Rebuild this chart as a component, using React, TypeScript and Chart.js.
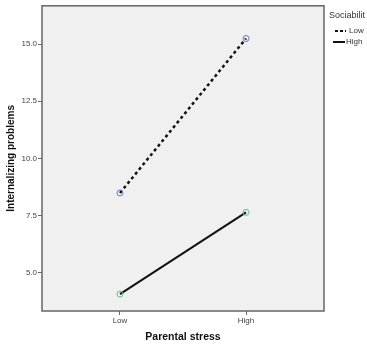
import React, { useEffect, useRef } from "react";
import { Chart, registerables } from "chart.js";
Chart.register(...registerables);

const categories = ["Low", "High"];
const lowSociability = [8.49, 15.24];
const highSociability = [4.07, 7.64];
const yTicks = [5, 7.5, 10, 12.5, 15];
const legendTitle = "Sociabilit";
const seriesNames = ["Low", "High"];
const xTitle = "Parental stress";
const yTitle = "Internalizing problems";

const FONT = "'Liberation Sans', Arial, sans-serif";

const decorPlugin = {
  id: "decor",
  beforeDraw(chart: any) {
    const { ctx, chartArea: a } = chart;
    ctx.save();
    ctx.fillStyle = "#fff";
    ctx.fillRect(0, 0, chart.width, chart.height);
    ctx.fillStyle = "#f0f0f0";
    ctx.fillRect(a.left, a.top, a.right - a.left, a.bottom - a.top);
    ctx.restore();
  },
  afterDraw(chart: any) {
    const { ctx, chartArea: a } = chart;
    ctx.save();
    ctx.strokeStyle = "#666";
    ctx.lineWidth = 1.5;
    ctx.strokeRect(a.left, a.top, a.right - a.left, a.bottom - a.top);
    // axis titles
    ctx.fillStyle = "#111";
    ctx.font = `bold 10.5px ${FONT}`;
    ctx.textAlign = "center";
    ctx.textBaseline = "middle";
    ctx.fillText(xTitle, (a.left + a.right) / 2, 337);
    ctx.font = `bold 10px ${FONT}`;
    ctx.save();
    ctx.translate(11, (a.top + a.bottom) / 2);
    ctx.rotate(-Math.PI / 2);
    ctx.fillText(yTitle, 0, 0);
    ctx.restore();
    // legend
    ctx.textAlign = "left";
    ctx.font = `9px ${FONT}`;
    ctx.fillStyle = "#333";
    ctx.fillText(legendTitle, 329, 16);
    ctx.font = `8px ${FONT}`;
    const rows = [31, 42];
    seriesNames.forEach((n, i) => {
      const y = rows[i];
      ctx.strokeStyle = "#111";
      ctx.lineWidth = 2;
      ctx.setLineDash(i === 0 ? [3, 2] : []);
      ctx.beginPath();
      ctx.moveTo(i === 0 ? 335 : 333, y);
      ctx.lineTo(i === 0 ? 346 : 345, y);
      ctx.stroke();
      ctx.setLineDash([]);
      ctx.fillStyle = "#333";
      ctx.fillText(n, i === 0 ? 349 : 346, y);
    });
    ctx.restore();
  },
};

export default function App() {
  const ref = useRef<HTMLCanvasElement>(null);
  useEffect(() => {
    const chart = new Chart(ref.current!, {
      type: "line",
      data: {
        datasets: [
          {
            label: seriesNames[0],
            data: lowSociability.map((v, i) => ({ x: i, y: v })),
            borderColor: "#111",
            borderWidth: 2.5,
            borderDash: [3, 3],
            pointRadius: 3,
            pointBorderWidth: 1,
            pointBorderColor: "#7070c8",
            pointBackgroundColor: "rgba(0,0,0,0)",
          },
          {
            label: seriesNames[1],
            data: highSociability.map((v, i) => ({ x: i, y: v })),
            borderColor: "#111",
            borderWidth: 2,
            pointRadius: 3,
            pointBorderWidth: 1,
            pointBorderColor: "#60c080",
            pointBackgroundColor: "rgba(0,0,0,0)",
          },
        ],
      },
      options: {
        animation: false,
        responsive: false,
        layout: { padding: { left: 0, right: 43, top: 5, bottom: 0 } },
        plugins: { legend: { display: false }, tooltip: { enabled: false } },
        scales: {
          x: {
            type: "linear",
            min: -0.619,
            max: 1.619,
            afterBuildTicks: (s: any) => {
              s.ticks = categories.map((_, i) => ({ value: i }));
            },
            afterFit: (s: any) => {
              s.height = 33;
            },
            ticks: {
              callback: (v: any) => categories[v] ?? "",
              font: { size: 8, family: FONT },
              color: "#444",
              padding: 1,
              maxRotation: 0,
            },
            grid: { drawOnChartArea: false, drawTicks: true, tickLength: 4, color: "#666" },
            border: { display: false },
          },
          y: {
            min: 3.33,
            max: 16.67,
            afterBuildTicks: (s: any) => {
              s.ticks = yTicks.map((v) => ({ value: v }));
            },
            afterFit: (s: any) => {
              s.width = 42;
            },
            ticks: {
              callback: (v: any) => Number(v).toFixed(1),
              font: { size: 8, family: FONT },
              color: "#444",
              padding: 1,
            },
            grid: { drawOnChartArea: false, drawTicks: true, tickLength: 4, color: "#666" },
            border: { display: false },
          },
        },
      },
      plugins: [decorPlugin],
    } as any);
    return () => chart.destroy();
  }, []);
  return (
    <div style={{ position: "fixed", left: 0, top: 0, width: 367, height: 344 }}>
      <canvas ref={ref} width={367} height={344} style={{ display: "block" }} />
    </div>
  );
}
